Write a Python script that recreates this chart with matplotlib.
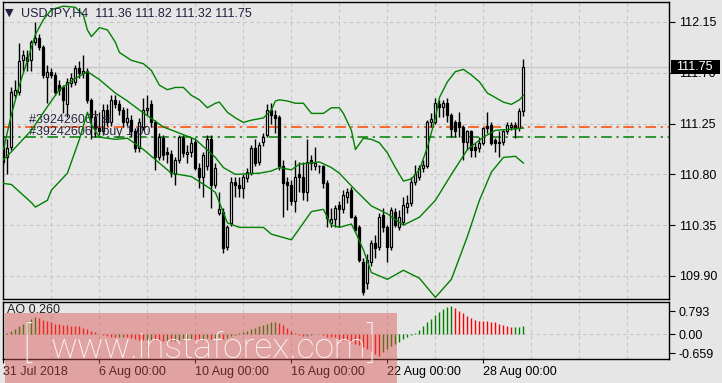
import matplotlib.pyplot as plt
import numpy as np
from matplotlib.patches import Rectangle

plt.rcParams['font.family'] = ['Liberation Sans', 'DejaVu Sans']

# USDJPY H4 candles, 31 Jul 2018 .. 29 Aug 2018
opens = [111.09, 110.95, 111.04, 111.50, 111.53, 111.81, 111.84, 111.81, 111.97, 112.01,
         111.93, 111.66, 111.71, 111.68, 111.59, 111.57, 111.42, 111.61, 111.62, 111.74,
         111.70, 111.72, 111.46, 111.31, 111.21, 111.18, 111.37, 111.26, 111.46, 111.42,
         111.37, 111.26, 111.28, 111.18, 111.03, 111.22, 111.37, 111.42, 111.26, 110.95,
         111.12, 111.00, 110.98, 110.80, 110.93, 111.12, 110.98, 111.00, 111.09, 110.86,
         110.78, 110.87, 111.11, 110.71, 110.46, 110.47, 110.16, 110.37, 110.73, 110.71,
         110.68, 110.77, 110.81, 111.03, 110.91, 111.09, 111.15, 111.37, 111.33, 111.31,
         110.87, 110.73, 110.71, 110.56, 110.80, 110.78, 110.64, 110.93, 110.87, 110.87,
         110.87, 110.72, 110.37, 110.40, 110.53, 110.49, 110.60, 110.66, 110.42, 110.33,
         110.02, 109.84, 110.02, 110.19, 110.16, 110.44, 110.33, 110.16, 110.47, 110.33,
         110.38, 110.51, 110.55, 110.73, 110.78, 110.86, 110.87, 111.26, 111.26, 111.42,
         111.40, 111.43, 111.33, 111.26, 111.26, 111.22, 111.09, 111.18, 111.04, 111.03,
         111.08, 111.23, 111.24, 111.10, 111.09, 111.09, 111.18, 111.22, 111.24, 111.21,
         111.36]
highs = [111.15, 111.11, 111.57, 111.64, 111.96, 111.90, 111.90, 111.99, 112.15, 112.04,
         111.95, 111.77, 111.74, 111.71, 111.64, 111.59, 111.65, 111.70, 111.77, 111.80,
         111.86, 111.74, 111.48, 111.37, 111.35, 111.42, 111.42, 111.50, 111.50, 111.46,
         111.40, 111.39, 111.33, 111.21, 111.30, 111.48, 111.50, 111.46, 111.28, 111.17,
         111.15, 111.04, 111.02, 110.95, 111.15, 111.15, 111.06, 111.13, 111.12, 110.90,
         111.00, 111.15, 111.15, 110.90, 110.64, 110.50, 110.35, 110.78, 110.78, 110.78,
         110.80, 110.86, 111.06, 111.11, 111.09, 111.17, 111.42, 111.43, 111.37, 111.33,
         110.93, 110.78, 110.75, 110.93, 110.91, 110.91, 111.11, 110.97, 111.04, 110.88,
         110.88, 110.75, 110.50, 110.53, 110.56, 110.66, 110.68, 110.69, 110.44, 110.35,
         110.06, 110.09, 110.22, 110.26, 110.46, 110.50, 110.35, 110.51, 110.50, 110.48,
         110.60, 110.62, 110.78, 110.88, 110.88, 110.93, 111.28, 111.34, 111.48, 111.46,
         111.46, 111.48, 111.34, 111.28, 111.35, 111.24, 111.19, 111.19, 111.08, 111.13,
         111.22, 111.35, 111.26, 111.12, 111.18, 111.19, 111.26, 111.26, 111.26, 111.39,
         111.82]
lows = [110.88, 110.80, 111.02, 111.48, 111.50, 111.71, 111.72, 111.72, 111.95, 111.90,
        111.65, 111.43, 111.65, 111.50, 111.50, 111.34, 111.31, 111.57, 111.59, 111.65,
        111.65, 111.43, 111.11, 111.13, 111.15, 111.15, 111.23, 111.23, 111.39, 111.33,
        111.22, 111.23, 111.13, 111.00, 111.00, 111.19, 111.33, 111.22, 110.84, 110.93,
        110.93, 110.90, 110.78, 110.71, 110.90, 110.95, 110.90, 110.95, 110.84, 110.68,
        110.60, 110.84, 110.50, 110.68, 110.44, 110.10, 110.13, 110.34, 110.60, 110.60,
        110.59, 110.73, 110.79, 110.87, 110.88, 111.05, 111.13, 111.25, 111.17, 110.84,
        110.42, 110.48, 110.53, 110.47, 110.64, 110.57, 110.56, 110.84, 110.84, 110.81,
        110.68, 110.33, 110.33, 110.33, 110.33, 110.46, 110.55, 110.41, 110.29, 110.02,
        109.73, 109.78, 109.99, 110.06, 110.13, 110.29, 110.02, 110.13, 110.33, 110.31,
        110.35, 110.46, 110.52, 110.71, 110.75, 110.82, 110.86, 111.22, 111.25, 111.31,
        111.31, 111.26, 111.13, 111.13, 111.13, 110.93, 111.02, 110.95, 110.95, 111.00,
        111.06, 111.17, 111.06, 111.00, 110.95, 111.06, 111.16, 111.19, 111.12, 111.18,
        111.32]
closes = [110.91, 111.03, 111.53, 111.55, 111.80, 111.86, 111.80, 111.97, 112.01, 111.93,
          111.68, 111.71, 111.68, 111.53, 111.55, 111.46, 111.62, 111.65, 111.74, 111.70,
          111.72, 111.46, 111.31, 111.21, 111.18, 111.37, 111.26, 111.46, 111.42, 111.37,
          111.26, 111.30, 111.18, 111.03, 111.26, 111.37, 111.39, 111.26, 110.95, 111.13,
          110.97, 110.98, 110.81, 110.93, 111.13, 110.99, 111.00, 111.08, 110.86, 110.78,
          110.97, 111.11, 110.71, 110.86, 110.49, 110.15, 110.33, 110.73, 110.71, 110.68,
          110.78, 110.82, 111.03, 110.90, 111.06, 111.13, 111.37, 111.33, 111.30, 110.87,
          110.72, 110.71, 110.56, 110.78, 110.78, 110.64, 110.91, 110.90, 110.90, 110.87,
          110.72, 110.41, 110.40, 110.50, 110.49, 110.62, 110.64, 110.42, 110.31, 110.04,
          109.76, 110.04, 110.19, 110.15, 110.42, 110.33, 110.16, 110.48, 110.35, 110.42,
          110.53, 110.55, 110.73, 110.80, 110.86, 110.88, 111.26, 111.29, 111.43, 111.40,
          111.43, 111.33, 111.20, 111.18, 111.22, 111.09, 111.18, 111.02, 111.02, 111.08,
          111.21, 111.21, 111.08, 111.08, 111.08, 111.18, 111.24, 111.24, 111.21, 111.36,
          111.75]

# Bollinger bands sampled off the chart (bar index, price)
bb_up_idx = [0, 2, 4, 6, 8, 10, 12, 15, 18, 20, 21, 22, 24, 26, 28, 29, 32, 35, 37, 39,
             41, 43, 45, 47, 49, 51, 53, 54, 56, 58, 60, 62, 65, 67, 68, 69, 71, 73, 75, 77,
             80, 82, 84, 85, 87, 88, 90, 92, 94, 96, 98, 100, 102, 104, 106, 108, 109, 111,
             113, 115, 117, 119, 121, 123, 125, 127, 129, 130]
bb_up = [111.02, 111.33, 111.59, 111.81, 112.04, 112.17, 112.26, 112.29, 112.28, 112.21,
         112.08, 112.02, 112.10, 112.08, 111.97, 111.88, 111.81, 111.78, 111.72, 111.59,
         111.55, 111.57, 111.57, 111.50, 111.46, 111.39, 111.43, 111.44, 111.35, 111.30,
         111.26, 111.28, 111.30, 111.37, 111.45, 111.46, 111.45, 111.43, 111.43, 111.34,
         111.34, 111.39, 111.39, 111.34, 111.19, 111.02, 111.12, 111.11, 111.08, 110.99,
         110.86, 110.74, 110.76, 110.84, 111.04, 111.30, 111.48, 111.62, 111.71, 111.73,
         111.68, 111.62, 111.52, 111.48, 111.44, 111.42, 111.46, 111.50]
bb_mid_idx = [0, 2, 7, 11, 14, 18, 21, 24, 28, 31, 34, 40, 48, 53, 55, 58, 64, 67, 69, 72,
              74, 79, 82, 84, 88, 92, 96, 100, 104, 108, 112, 116, 120, 123, 127, 130]
bb_mid = [110.93, 111.00, 111.19, 111.40, 111.55, 111.65, 111.71, 111.64, 111.52, 111.45,
          111.37, 111.22, 111.11, 110.95, 110.86, 110.80, 110.81, 110.83, 110.86, 110.84,
          110.89, 110.91, 110.86, 110.81, 110.66, 110.52, 110.45, 110.35, 110.42, 110.57,
          110.80, 111.02, 111.13, 111.19, 111.20, 111.21]
bb_low_idx = [0, 2, 7, 8, 11, 12, 16, 19, 21, 22, 24, 28, 31, 35, 42, 47, 51, 53, 55, 56,
              59, 65, 67, 70, 72, 75, 77, 80, 82, 84, 87, 88, 90, 92, 96, 100, 104, 108,
              112, 114, 116, 119, 122, 125, 128, 130]
bb_low = [110.72, 110.71, 110.55, 110.51, 110.57, 110.66, 110.81, 111.11, 111.35, 111.24,
          111.13, 111.11, 111.12, 111.02, 110.81, 110.78, 110.69, 110.64, 110.46, 110.37,
          110.33, 110.33, 110.27, 110.24, 110.22, 110.37, 110.47, 110.49, 110.35, 110.33,
          110.36, 110.29, 110.13, 109.93, 109.87, 109.95, 109.88, 109.71, 109.87, 110.06,
          110.25, 110.57, 110.82, 110.95, 110.96, 110.90]

# Awesome Oscillator
ao = [0.02, 0.05, 0.10, 0.17, 0.26, 0.36, 0.45, 0.52, 0.58, 0.55,
      0.50, 0.45, 0.41, 0.36, 0.33, 0.31, 0.30, 0.29, 0.27, 0.26,
      0.22, 0.17, 0.12, 0.06, -0.01, -0.05, -0.08, -0.10, -0.11, -0.10,
      -0.09, -0.11, -0.14, -0.17, -0.20, -0.22, -0.20, -0.19, -0.22, -0.23,
      -0.24, -0.22, -0.25, -0.24, -0.21, -0.19, -0.18, -0.16, -0.18, -0.21,
      -0.19, -0.15, -0.16, -0.13, -0.12, -0.17, -0.14, -0.08, -0.03, 0.02,
      0.06, 0.10, 0.16, 0.22, 0.27, 0.32, 0.36, 0.40, 0.42, 0.37,
      0.30, 0.21, 0.10, 0.02, -0.04, -0.08, -0.06, -0.03, -0.01, 0.01,
      -0.05, -0.09, -0.10, -0.12, -0.16, -0.20, -0.24, -0.30, -0.35, -0.38,
      -0.44, -0.50, -0.60, -0.70, -0.76, -0.62, -0.50, -0.43, -0.34, -0.27,
      -0.18, -0.11, -0.05, 0.02, 0.15, 0.28, 0.40, 0.52, 0.64, 0.76,
      0.86, 0.93, 0.96, 0.90, 0.80, 0.71, 0.62, 0.54, 0.49, 0.46,
      0.45, 0.44, 0.43, 0.40, 0.36, 0.31, 0.27, 0.24, 0.245, 0.25,
      0.26]

price_ticks = [112.15, 111.70, 111.25, 110.80, 110.35, 109.90]
ao_ticks = [0.793, 0.0, -0.659]
ao_tick_labels = ['0.793', '0.00', '-0.659']
date_pos = [0, 24, 48, 72, 96, 120]
date_labels = ['31 Jul 2018', '6 Aug 00:00', '10 Aug 00:00', '16 Aug 00:00',
               '22 Aug 00:00', '28 Aug 00:00']
sl_level = 111.22
buy_level = 111.13
last_price = 111.75

bg = '#E6E6E6'
grid_c = '#C4C4C4'
W, H = 722, 383

fig = plt.figure(figsize=(W / 100, H / 100), dpi=100, facecolor=bg)
ax = fig.add_axes([3 / W, 1 - 298.5 / H, 666 / W, 296.5 / H], facecolor=bg)
ax2 = fig.add_axes([3 / W, 1 - 359 / H, 666 / W, 57.3 / H], facecolor=bg)

o = np.array(opens)
h = np.array(highs)
l = np.array(lows)
c = np.array(closes)
x = np.arange(len(c))

# grid
for a in (ax, ax2):
    a.set_xlim(-0.1, 166.4)
    a.set_axisbelow(True)
    for s in a.spines.values():
        s.set_color('black')
        s.set_linewidth(1)
ax.set_xticks(range(12, 167, 12))
ax.tick_params(axis='x', length=0, labelbottom=False)
ax.grid(True, color=grid_c, ls=(0, (3, 3)), lw=0.8)

# candles
ax.vlines(x, l, h, color='black', lw=1, zorder=3)
up = c >= o
body_lo = np.minimum(o, c)
body_h = np.maximum(np.abs(c - o), 0.005)
ax.bar(x, body_h, bottom=body_lo, width=0.5, color=np.where(up, 'white', 'black'),
       edgecolor='black', linewidth=0.9, zorder=4)

# bollinger bands
ax.plot(bb_up_idx, bb_up, color='#008000', lw=1, zorder=5)
ax.plot(bb_mid_idx, bb_mid, color='#008000', lw=1, zorder=5)
ax.plot(bb_low_idx, bb_low, color='#008000', lw=1, zorder=5)

# order lines and current price
ax.axhline(last_price, color='#C8C8C8', lw=1, zorder=1)
ax.axhline(sl_level, color='#FF4500', lw=1.1, ls=(0, (7, 3, 1.5, 3)), zorder=2)
ax.axhline(buy_level, color='#008000', lw=1.1, ls=(0, (7, 3, 1.5, 3)), zorder=2)
ax.text(6.5, sl_level + 0.035, '#392426067 sl', fontsize=9, color='#262640', zorder=4.5)
ax.text(6.5, buy_level + 0.02, '#392426067 buy 1.00', fontsize=9, color='#262640',
        zorder=4.5)

ax.set_ylim(109.70, 112.327)
ax.yaxis.tick_right()
ax.set_yticks(price_ticks)
ax.set_yticklabels(['%.2f' % v for v in price_ticks])
ax.tick_params(axis='y', direction='out', length=4, pad=3, labelsize=9, colors='black')

# current price box on the scale
fig.add_artist(Rectangle((671 / W, 1 - 74 / H), 49 / W, 14 / H, transform=fig.transFigure,
                         facecolor='black', edgecolor='none', zorder=10))
fig.text(676 / W, 1 - 67 / H, '%.2f' % last_price, fontsize=9, color='white',
         va='center', zorder=11)

fig.text(5 / W, 1 - 13 / H, '\u25bc', fontsize=8, color='#202040', va='center',
         family='DejaVu Sans')
fig.text(21 / W, 1 - 13 / H, 'USDJPY,H4  111.36 111.82 111.32 111.75', fontsize=9,
         color='#202040', va='center')

# AO panel
ao_arr = np.array(ao)
cols = ['#008000' if i == 0 or ao_arr[i] > ao_arr[i - 1] else '#FF0000'
        for i in range(len(ao_arr))]
ax2.vlines(x, 0, ao_arr, colors=cols, lw=1, zorder=3)
ax2.axhline(0, color=grid_c, ls=(0, (3, 3)), lw=0.8, zorder=1)
ax2.set_ylim(-0.862, 1.114)
ax2.yaxis.tick_right()
ax2.set_yticks(ao_ticks)
ax2.set_yticklabels(ao_tick_labels)
ax2.tick_params(axis='y', direction='out', length=4, pad=3, labelsize=9)
ax2.set_xticks(date_pos)
ax2.set_xticklabels(date_labels, ha='left')
ax2.set_xticks([v for v in range(12, 167, 12) if v not in date_pos], minor=True)
ax2.tick_params(axis='x', which='major', direction='out', length=3, pad=2, labelsize=9)
ax2.tick_params(axis='x', which='minor', length=0)
ax2.grid(True, axis='x', which='both', color=grid_c, ls=(0, (3, 3)), lw=0.8)
ax2.text(0.006, 0.86, 'AO 0.260', transform=ax2.transAxes, fontsize=9, color='#202020',
         va='center')

# watermark
fig.add_artist(Rectangle((5 / W, 0), 392 / W, 70 / H, transform=fig.transFigure,
                         facecolor='#D9534F', alpha=0.45, edgecolor='none', zorder=20))
fig.text(22 / W, 1 - 358 / H, '[', fontsize=30, color='white', alpha=0.9,
         family=['Roboto', 'DejaVu Sans'], fontweight='light', zorder=21)
fig.text(51 / W, 1 - 358 / H, 'www.instaforex.com', fontsize=25.5, color='white', alpha=0.9,
         family=['Roboto', 'DejaVu Sans'], fontweight='light', zorder=21)
fig.text(366 / W, 1 - 358 / H, ']', fontsize=30, color='white', alpha=0.9,
         family=['Roboto', 'DejaVu Sans'], fontweight='light', zorder=21)

fig.savefig('out.png', dpi=100, facecolor=bg)
